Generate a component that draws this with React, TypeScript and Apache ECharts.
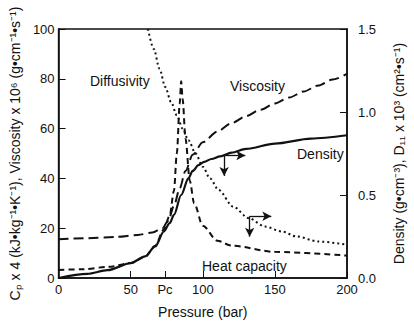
import { useEffect, useRef } from "react";
import * as echarts from "echarts";

// Axis ticks
const xTicks = [0, 50, 73.8, 100, 150, 200];
const xTickLabels = ["0", "50", "Pc", "100", "150", "200"];

// Viscosity x 10^6 (left axis)
const viscosityP = [0, 20, 40, 55, 65, 72, 76, 80, 84, 88, 93, 100, 110, 120, 130, 140, 150, 160, 170, 180, 190, 200];
const viscosityV = [15.6, 16, 16.5, 17.3, 18.3, 20, 23, 29, 36, 43, 49.5, 54.5, 58.8, 62.2, 65, 67.6, 70.1, 72.5, 74.9, 77.3, 79.7, 82];

// Heat capacity Cp x 4 (left axis)
const heatP = [0, 16, 35, 50, 60, 67, 73, 77, 80, 82, 84, 85, 86, 88, 91, 94, 100, 110, 120, 150, 200];
const heatV = [3.2, 3.5, 4.5, 6, 8.5, 13, 19.5, 25, 35, 50, 70, 79, 72, 56, 39, 30, 21, 15, 13, 10.5, 9];

// Density (right axis)
const densityP = [0, 20, 34, 50, 60, 67, 73, 77, 80, 85, 90, 93, 97, 101, 106, 112, 120, 130, 150, 175, 200];
const densityV = [0, 0.025, 0.047, 0.09, 0.13, 0.19, 0.28, 0.33, 0.38, 0.5, 0.6, 0.645, 0.68, 0.7, 0.717, 0.733, 0.755, 0.778, 0.81, 0.84, 0.86];

// Diffusivity D11 x 10^3 (right axis)
const diffP = [62, 66, 70, 74, 78, 82, 86, 90, 95, 100, 105, 111, 121, 132, 143, 155, 165, 180, 200];
const diffV = [1.5, 1.38, 1.26, 1.15, 1.06, 0.98, 0.9, 0.83, 0.75, 0.67, 0.6, 0.53, 0.43, 0.36, 0.31, 0.28, 0.25, 0.22, 0.2];

// Annotation arrows in left-axis data units: [startX, startY, endX, endY]
const arrows = [
  [114.8, 49.2, 114.8, 41.0],
  [114.8, 49.2, 129.5, 49.2],
  [132.5, 24.8, 132.5, 16.6],
  [132.5, 24.8, 147.5, 24.8],
];

const FONT = "'Liberation Sans', Arial, Helvetica, sans-serif";
const INK = "#111";

const pairs = (xs: number[], ys: number[]) => xs.map((x, i) => [x, ys[i]]);

export default function App() {
  const ref = useRef<HTMLDivElement>(null);
  useEffect(() => {
    if (!ref.current) return;
    const chart = echarts.init(ref.current, undefined, { renderer: "svg" });
    const lineBase = {
      type: "line" as const,
      showSymbol: false,
      smooth: 0.3,
      smoothMonotone: "x" as const,
      silent: true,
    };
    chart.setOption({
      animation: false,
      backgroundColor: "#fff",
      textStyle: { fontFamily: FONT, color: INK },
      grid: {
        left: 49,
        right: 59,
        top: 29,
        bottom: 41,
        show: true,
        borderColor: INK,
        borderWidth: 1.5,
        backgroundColor: "transparent",
      },
      xAxis: {
        type: "value",
        min: 0,
        max: 200,
        name: "Pressure (bar)",
        nameLocation: "middle",
        nameGap: 27,
        nameTextStyle: { fontSize: 14, color: INK, fontFamily: FONT },
        axisLine: { lineStyle: { color: INK, width: 1.5 } },
        axisTick: { inside: true, length: 7, customValues: xTicks, lineStyle: { color: INK, width: 1 } },
        axisLabel: {
          customValues: xTicks,
          margin: 5,
          fontSize: 13,
          color: INK,
          fontFamily: FONT,
          formatter: (v: number) => {
            const i = xTicks.findIndex((t) => Math.abs(t - v) < 1e-6);
            return i >= 0 ? xTickLabels[i] : "";
          },
        },
        splitLine: { show: false },
      },
      yAxis: [
        {
          type: "value",
          min: 0,
          max: 100,
          interval: 20,
          name: "Cₚ x 4 (kJ•kg⁻¹•K⁻¹), Viscosity x 10⁶ (g•cm⁻¹•s⁻¹)",
          nameLocation: "middle",
          nameRotate: 90,
          nameGap: 34,
          nameTextStyle: { fontSize: 14, color: INK, fontFamily: FONT },
          axisLine: { show: true, lineStyle: { color: INK, width: 1.5 } },
          axisTick: { show: true, inside: true, length: 7, lineStyle: { color: INK, width: 1 } },
          axisLabel: { margin: 4, fontSize: 13, color: INK, fontFamily: FONT },
          splitLine: { show: false },
        },
        {
          type: "value",
          min: 0,
          max: 1.5,
          interval: 0.5,
          position: "right",
          name: "Density (g•cm⁻³), D₁₁ x 10³ (cm²•s⁻¹)",
          nameLocation: "middle",
          nameRotate: 90,
          nameGap: 45,
          nameTextStyle: { fontSize: 14, color: INK, fontFamily: FONT },
          axisLine: { show: true, lineStyle: { color: INK, width: 1.5 } },
          axisTick: { show: true, inside: true, length: 7, lineStyle: { color: INK, width: 1 } },
          axisLabel: {
            margin: 11,
            fontSize: 13,
            color: INK,
            fontFamily: FONT,
            formatter: (v: number) => v.toFixed(1),
          },
          splitLine: { show: false },
        },
      ],
      series: [
        {
          ...lineBase,
          name: "Viscosity",
          yAxisIndex: 0,
          data: pairs(viscosityP, viscosityV),
          lineStyle: { color: INK, width: 2, type: [10, 5] },
          markLine: {
            silent: true,
            symbol: ["none", "arrow"],
            symbolSize: [7, 9],
            label: { show: false },
            lineStyle: { color: INK, width: 1.3, type: "solid" },
            data: arrows.map((a) => [
              { coord: [a[0], a[1]] },
              { coord: [a[2], a[3]] },
            ]),
          },
        },
        {
          ...lineBase,
          name: "Heat capacity",
          yAxisIndex: 0,
          data: pairs(heatP, heatV),
          lineStyle: { color: INK, width: 2, type: [6, 4] },
        },
        {
          ...lineBase,
          name: "Density",
          yAxisIndex: 1,
          data: pairs(densityP, densityV),
          lineStyle: { color: INK, width: 2.2, type: "solid" },
        },
        {
          ...lineBase,
          name: "Diffusivity",
          yAxisIndex: 1,
          data: pairs(diffP, diffV),
          lineStyle: { color: INK, width: 2, type: [2, 3] },
        },
      ],
      graphic: [
        { type: "text", left: 90, top: 74, style: { text: "Diffusivity", font: `14px ${FONT}`, fill: INK } },
        { type: "text", left: 230, top: 79, style: { text: "Viscosity", font: `14px ${FONT}`, fill: INK } },
        { type: "text", left: 297, top: 147, style: { text: "Density", font: `14px ${FONT}`, fill: INK } },
        { type: "text", left: 202, top: 259, style: { text: "Heat capacity", font: `14px ${FONT}`, fill: INK } },
      ],
    });
    return () => chart.dispose();
  }, []);
  return (
    <div
      ref={ref}
      style={{ position: "fixed", left: 0, top: 0, width: 414, height: 324, background: "#fff" }}
    />
  );
}
